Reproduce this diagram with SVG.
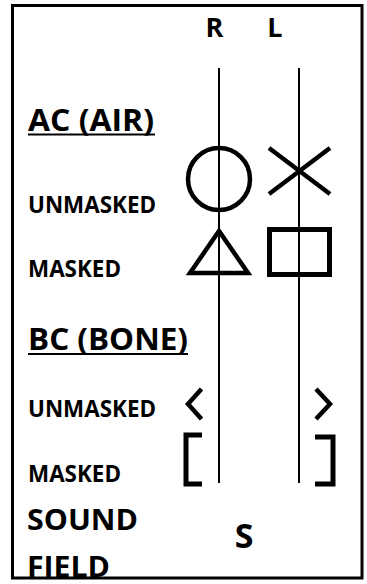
<svg xmlns="http://www.w3.org/2000/svg" width="367" height="584" viewBox="0 0 367 584">
  <style>
    .t { font-family: "Open Sans", "Noto Sans", "Liberation Sans", sans-serif; font-weight: 700; fill: #000; }
    .head { font-size: 31px; }
    .row { font-size: 22.5px; }
    .big { font-size: 29px; }
    .sym { fill: none; stroke: #000; stroke-width: 4.5; stroke-linejoin: miter; stroke-linecap: butt; }
    .ear { stroke: #000; stroke-width: 2; }
    .ul { stroke: #000; stroke-width: 2; }
  </style>
  <rect width="367" height="584" fill="#fff"/>

  <!-- ear column headers -->
  <g id="header-r"><text class="t" x="214.5" y="36.5" font-size="27" text-anchor="middle">R</text></g>
  <g id="header-l"><text class="t" x="275" y="36.5" font-size="27" text-anchor="middle">L</text></g>

  <!-- vertical ear lines -->
  <g id="connectors">
    <line class="ear" x1="219" y1="68" x2="219" y2="483"/>
    <line class="ear" x1="299" y1="68" x2="299" y2="483"/>
  </g>

  <!-- row labels -->
  <g id="label-ac">
    <text class="t head" x="28" y="131" textLength="126" lengthAdjust="spacingAndGlyphs">AC (AIR)</text>
    <line class="ul" x1="28" y1="134.5" x2="155" y2="134.5"/>
  </g>
  <g id="label-ac-unmasked"><text class="t row" x="28" y="212.5" textLength="128" lengthAdjust="spacingAndGlyphs">UNMASKED</text></g>
  <g id="label-ac-masked"><text class="t row" x="28" y="277" textLength="93" lengthAdjust="spacingAndGlyphs">MASKED</text></g>
  <g id="label-bc">
    <text class="t head" x="28" y="349.5" textLength="160" lengthAdjust="spacingAndGlyphs">BC (BONE)</text>
    <line class="ul" x1="28" y1="354" x2="188" y2="354"/>
  </g>
  <g id="label-bc-unmasked"><text class="t row" x="28" y="416.5" textLength="128" lengthAdjust="spacingAndGlyphs">UNMASKED</text></g>
  <g id="label-bc-masked"><text class="t row" x="28" y="481.5" textLength="93" lengthAdjust="spacingAndGlyphs">MASKED</text></g>
  <g id="label-sound-field">
    <text class="t big" x="27" y="530" textLength="111" lengthAdjust="spacingAndGlyphs">SOUND</text>
    <text class="t big" x="27" y="577" textLength="83" lengthAdjust="spacingAndGlyphs">FIELD</text>
  </g>

  <!-- audiogram symbols -->
  <g id="ac-unmasked-r"><circle class="sym" cx="219" cy="179" r="31"/></g>
  <g id="ac-unmasked-l"><path class="sym" d="M269,148 L330,194 M330,148 L269,194"/></g>
  <g id="ac-masked-r"><polygon class="sym" points="219,231 190,273 248,273"/></g>
  <g id="ac-masked-l"><rect class="sym" style="stroke-width:5" x="269.5" y="229.5" width="60" height="45"/></g>
  <g id="bc-unmasked-r"><polyline class="sym" points="201.5,389 188,404 201.5,419"/></g>
  <g id="bc-unmasked-l"><polyline class="sym" points="316,389 330,404 316,419"/></g>
  <g id="bc-masked-r"><polyline class="sym" style="stroke-width:5" points="202,435 186,435 186,484 202,484"/></g>
  <g id="bc-masked-l"><polyline class="sym" style="stroke-width:5" points="315,437 333,437 333,484 315,484"/></g>
  <g id="sound-field"><text class="t" x="244" y="547.5" font-size="34" text-anchor="middle">S</text></g>

  <!-- outer frame -->
  <rect x="12.5" y="5.5" width="349.5" height="572.5" fill="none" stroke="#000" stroke-width="3"/>
</svg>
